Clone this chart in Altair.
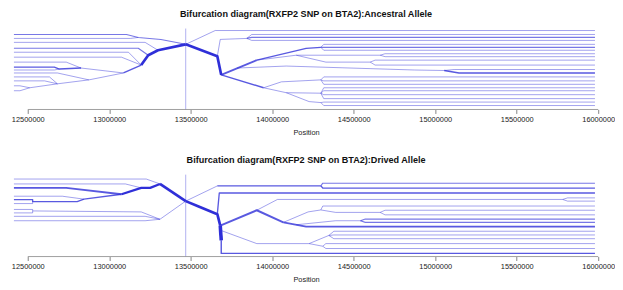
import altair as alt
import pandas as pd

# ---------------- data (positions in Mb, haplotype slot = vertical order) ----------------
CORE = 13.469          # core SNP position (Mb)
FIRST = 12.415         # first marker
LAST = 15.98           # last marker
tick_values = [12500000, 13000000, 13500000, 14000000, 14500000, 15000000, 15500000, 16000000]

# each path: (line weight, [(position Mb, haplotype slot), ...])
anc_paths = [
    # left side of core
    (3.0, [(13.469, 16), (13.299, 22), (13.239, 27), (13.196, 37)]),
    (1.6, [(13.196, 37), (13.087, 45)]),
    (1.0, [(13.087, 45), (12.875, 52), (12.682, 56), (12.512, 60)]),
    (1.2, [(FIRST, 6), (13.106, 6), (13.178, 9), (13.317, 11), (13.469, 16)]),
    (1.0, [(FIRST, 10), (13.130, 10), (13.178, 9)]),
    (1.0, [(FIRST, 14), (13.220, 14), (13.299, 22)]),
    (1.3, [(FIRST, 20), (13.178, 20), (13.239, 27)]),
    (1.0, [(FIRST, 24), (13.118, 24), (13.196, 37)]),
    (1.0, [(FIRST, 29), (13.075, 29), (13.196, 37)]),
    (1.0, [(FIRST, 34), (12.736, 34), (12.827, 40), (13.087, 45)]),
    (1.5, [(FIRST, 39), (12.663, 39), (12.694, 41), (12.827, 40)]),
    (1.0, [(FIRST, 42), (12.663, 42), (12.694, 41)]),
    (1.0, [(FIRST, 45), (12.682, 45), (12.875, 52)]),
    (1.0, [(FIRST, 49), (12.633, 49), (12.682, 56)]),
    (1.0, [(FIRST, 53), (12.603, 53), (12.682, 56)]),
    (1.0, [(FIRST, 58), (12.452, 58), (12.512, 60)]),
    (1.0, [(FIRST, 63), (12.452, 63), (12.512, 60)]),
    # right side of core
    (1.0, [(13.469, 16), (13.650, 2), (LAST, 2)]),
    (3.0, [(13.469, 16), (13.663, 28), (13.687, 47)]),
    (1.0, [(13.663, 28), (13.681, 11), (13.844, 10)]),
    (1.0, [(13.844, 10), (13.874, 6), (LAST, 6)]),
    (1.3, [(13.844, 10), (13.874, 9), (LAST, 9)]),
    (1.0, [(13.844, 10), (13.874, 12), (LAST, 12)]),
    (2.0, [(13.687, 47), (13.905, 32)]),
    (1.5, [(13.905, 32), (14.208, 20), (14.298, 19)]),
    (1.0, [(14.298, 19), (14.316, 16), (LAST, 16)]),
    (1.3, [(14.298, 19), (14.316, 19), (LAST, 19)]),
    (1.0, [(14.298, 19), (14.316, 22), (LAST, 22)]),
    (1.0, [(13.905, 32), (14.147, 27), (14.662, 27)]),
    (1.0, [(14.662, 27), (14.692, 25.5), (LAST, 25.5)]),
    (1.0, [(14.662, 27), (14.692, 28.5), (LAST, 28.5)]),
    (1.0, [(14.147, 27), (14.329, 34), (14.601, 34)]),
    (1.0, [(14.601, 34), (14.631, 32), (LAST, 32)]),
    (1.0, [(14.601, 34), (14.631, 37), (LAST, 37)]),
    (1.0, [(13.784, 40), (14.086, 38), (14.874, 42), (15.055, 42.5)]),
    (1.0, [(15.055, 42.5), (15.116, 41.5), (LAST, 41.5)]),
    (1.6, [(15.055, 42.5), (15.146, 45), (LAST, 45)]),
    (1.6, [(13.687, 47), (13.947, 60)]),
    (1.0, [(13.947, 60), (14.056, 54), (14.298, 52)]),
    (1.0, [(14.298, 52), (14.316, 49), (LAST, 49)]),
    (1.0, [(14.298, 52), (14.316, 53), (LAST, 53)]),
    (1.0, [(14.298, 52), (14.316, 56.5), (LAST, 56.5)]),
    (1.0, [(13.947, 60), (14.086, 65), (14.298, 65.5)]),
    (1.0, [(14.298, 65.5), (14.316, 60), (LAST, 60)]),
    (1.0, [(14.298, 65.5), (14.316, 63), (LAST, 63)]),
    (1.0, [(14.298, 65.5), (14.316, 67), (LAST, 67)]),
    (1.0, [(14.298, 65.5), (14.316, 71), (LAST, 71)]),
    (1.0, [(14.086, 65), (14.226, 74), (14.298, 75)]),
    (1.0, [(14.298, 75), (14.316, 74.5), (LAST, 74.5)]),
    (1.0, [(14.298, 75), (14.316, 78), (LAST, 78)]),
]

der_paths = [
    # left side of core
    (3.0, [(13.469, 27), (13.311, 9.5)]),
    (2.5, [(13.311, 9.5), (13.251, 13.5), (13.196, 13.5), (13.075, 20)]),
    (2.0, [(13.075, 20), (12.736, 13.5), (FIRST, 13.5)]),
    (1.0, [(FIRST, 4.5), (13.227, 4.5), (13.311, 9.5)]),
    (1.0, [(FIRST, 9.5), (13.099, 9.5), (13.196, 13.5)]),
    (1.0, [(FIRST, 22), (12.712, 22), (12.845, 25)]),
    (1.5, [(12.845, 25), (13.075, 20)]),
    (1.5, [(FIRST, 25.5), (12.530, 25.5), (12.530, 27.5), (12.803, 27.5), (12.845, 25)]),
    (1.0, [(FIRST, 29.5), (12.530, 29.5), (12.530, 27.5)]),
    (1.0, [(FIRST, 35.5), (12.530, 35.5), (12.530, 37), (13.196, 38), (13.311, 45.5)]),
    (1.0, [(FIRST, 39), (12.530, 39), (12.530, 37)]),
    (1.0, [(FIRST, 42.5), (13.220, 42.5), (13.311, 45.5)]),
    (1.0, [(FIRST, 47), (13.220, 47), (13.311, 45.5)]),
    (1.0, [(13.311, 45.5), (13.469, 27)]),
    # right side of core
    (1.0, [(13.469, 27), (13.663, 11.5)]),
    (1.5, [(13.663, 11.5), (14.298, 11.5)]),
    (1.2, [(14.298, 11.5), (14.310, 8.7), (LAST, 8.7)]),
    (1.5, [(14.298, 11.5), (14.310, 13.7), (LAST, 13.7)]),
    (3.0, [(13.469, 27), (13.541, 32), (13.663, 40.3), (13.681, 52)]),
    (4.0, [(13.681, 52), (13.687, 67)]),
    (1.5, [(13.663, 40.3), (13.675, 18.7), (LAST, 18.7)]),
    (2.2, [(13.681, 52), (13.905, 36.3), (14.068, 48.7)]),
    (1.8, [(14.068, 48.7), (14.208, 53), (LAST, 53)]),
    (1.0, [(13.905, 36.3), (14.032, 25.3), (15.782, 25.3)]),
    (1.0, [(15.782, 25.3), (15.812, 23.7), (LAST, 23.7)]),
    (1.0, [(15.782, 25.3), (15.812, 27), (LAST, 27)]),
    (1.0, [(14.068, 48.7), (14.220, 38), (14.298, 36)]),
    (1.0, [(14.298, 36), (14.310, 32), (LAST, 32)]),
    (1.0, [(14.298, 36), (14.389, 38.5), (14.662, 38.5)]),
    (1.0, [(14.662, 38.5), (14.692, 36.3), (LAST, 36.3)]),
    (1.0, [(14.662, 38.5), (14.692, 41), (LAST, 41)]),
    (1.0, [(14.147, 51.1), (14.389, 47), (14.541, 47)]),
    (1.3, [(14.541, 47), (14.571, 45.3), (LAST, 45.3)]),
    (1.3, [(14.541, 47), (14.571, 48.7), (LAST, 48.7)]),
    (1.0, [(13.687, 57), (13.905, 70.3), (14.226, 70.3)]),
    (1.0, [(14.226, 70.3), (14.347, 62)]),
    (1.0, [(14.347, 62), (14.378, 57.7), (LAST, 57.7)]),
    (1.0, [(14.347, 62), (14.378, 61.5), (LAST, 61.5)]),
    (1.0, [(14.347, 62), (14.378, 65.3), (LAST, 65.3)]),
    (1.0, [(14.226, 70.3), (14.310, 73)]),
    (1.0, [(14.310, 73), (14.329, 70.3), (LAST, 70.3)]),
    (1.0, [(14.310, 73), (14.329, 75.3), (LAST, 75.3)]),
    (1.6, [(13.687, 67), (13.687, 80.3), (LAST, 80.3)]),
]

anc_title = "Bifurcation diagram(RXFP2 SNP on BTA2):Ancestral Allele"
der_title = "Bifurcation diagram(RXFP2 SNP on BTA2):Drived Allele"

FONT = "Liberation Sans"
LINE_COLOR = "#2f2fd8"


def frame(paths):
    rows = []
    for pid, (w, pts) in enumerate(paths):
        # thin branches look pale in the reference, heavy ones saturated
        op = 0.5 if w <= 1.0 else (0.65 if w < 1.5 else (0.8 if w < 2.5 else 1.0))
        for k, (x, y) in enumerate(pts):
            rows.append({"path": pid, "seq": k, "pos": x * 1e6, "hap": y,
                         "w": w * 0.9, "op": op})
    return pd.DataFrame(rows)


def panel(paths, title, ymax, h):
    df = frame(paths)
    xs = alt.Scale(domain=[FIRST * 1e6, 16000000], nice=False, zero=False)
    ys = alt.Scale(domain=[0, ymax], reverse=True, nice=False, zero=False)
    axis = alt.Axis(values=tick_values, format="d", title="Position", domain=False,
                    grid=False, tickSize=4, tickColor="#666666", tickWidth=0.8,
                    labelFont=FONT, labelFontSize=7.5, labelColor="#222222",
                    labelPadding=2, labelFlush=False, labelOverlap=False,
                    titleFont=FONT, titleFontSize=7.5, titleFontWeight="normal",
                    titleColor="#222222", titlePadding=6)
    core = alt.Chart(pd.DataFrame({"pos": [CORE * 1e6]})).mark_rule(
        color="#a8a8ee", strokeWidth=0.9
    ).encode(x=alt.X("pos:Q", scale=xs, axis=axis))
    lines = alt.Chart(df).mark_line(
        color=LINE_COLOR, strokeJoin="round", strokeCap="butt"
    ).encode(
        x=alt.X("pos:Q", scale=xs, axis=axis),
        y=alt.Y("hap:Q", scale=ys, axis=None),
        detail="path:N",
        order="seq:Q",
        strokeWidth=alt.StrokeWidth("w:Q", scale=None),
        strokeOpacity=alt.StrokeOpacity("op:Q", scale=None),
    )
    axisline = alt.Chart(pd.DataFrame({"a": [tick_values[0]], "b": [tick_values[-1]], "y": [ymax]})).mark_rule(
        color="#888888", strokeWidth=0.8
    ).encode(x=alt.X("a:Q", scale=xs, axis=axis), x2="b:Q", y=alt.Y("y:Q", scale=ys, axis=None))
    return alt.layer(core, lines, axisline).properties(
        width=592, height=h,
        title=alt.TitleParams(title, font=FONT, fontSize=9.2, fontWeight="bold",
                              color="#111111", anchor="middle", offset=9),
    )


top = panel(anc_paths, anc_title, 82, 82)
bottom = panel(der_paths, der_title, 83.5, 83)

chart = alt.vconcat(top, bottom, spacing=20).properties(
    padding={"left": 3, "top": 0, "right": 0, "bottom": 0}
).configure_view(stroke=None)

chart.save("out.html", embed_options={"renderer": "svg", "actions": False})
